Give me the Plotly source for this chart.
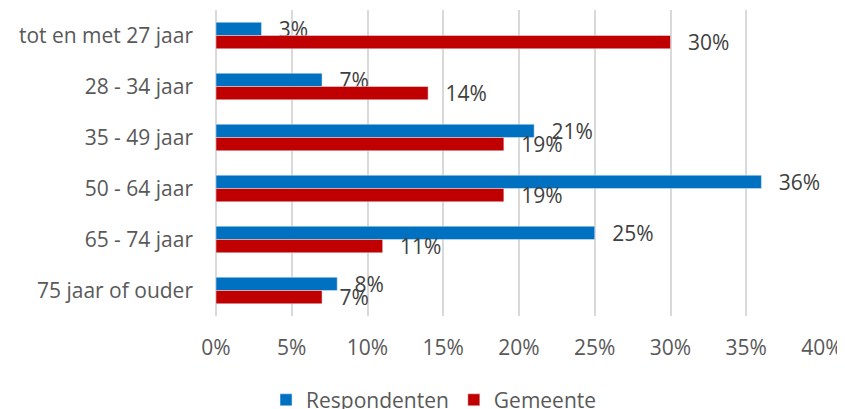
import plotly.graph_objects as go

categories = ["tot en met 27 jaar", "28 - 34 jaar", "35 - 49 jaar",
              "50 - 64 jaar", "65 - 74 jaar", "75 jaar of ouder"]
respondenten = [0.03, 0.07, 0.21, 0.36, 0.25, 0.08]
gemeente = [0.30, 0.14, 0.19, 0.19, 0.11, 0.07]
x_ticks = [0, 0.05, 0.10, 0.15, 0.20, 0.25, 0.30, 0.35, 0.40]
x_tick_labels = ["0%", "5%", "10%", "15%", "20%", "25%", "30%", "35%", "40%"]

FONT = "Open Sans"
FS = 21
pad = "\u00a0\u00a0\u2009"

fig = go.Figure()
fig.add_trace(go.Bar(
    name="Respondenten", y=categories, x=respondenten, orientation="h",
    marker=dict(color="#0070C0"),
    text=[pad + f"{round(v*100)}%" for v in respondenten],
    textposition="outside", constraintext="none", cliponaxis=False,
    textfont=dict(family=FONT, size=FS, color="#404040"),
))
fig.add_trace(go.Bar(
    name="Gemeente", y=categories, x=gemeente, orientation="h",
    marker=dict(color="#C00000"),
    text=[pad + f"{round(v*100)}%" for v in gemeente],
    textposition="outside", constraintext="none", cliponaxis=False,
    textfont=dict(family=FONT, size=FS, color="#404040"),
))

# the page body has an 8px margin, so the figure is sized/offset to compensate
fig.update_layout(
    width=837, height=401,
    margin=dict(l=208, r=23, t=2, b=93, autoexpand=False),
    paper_bgcolor="white", plot_bgcolor="white",
    barmode="group", bargap=0.48, bargroupgap=0,
    font=dict(family=FONT, size=FS, color="#595959"),
    showlegend=True,
    legend=dict(orientation="h", xref="container", yref="container",
                x=0.509, xanchor="center", y=0.022, yanchor="middle",
                font=dict(family=FONT, size=FS, color="#595959"),
                traceorder="normal", itemclick=False),
    xaxis=dict(range=[0, 0.40], tickvals=x_ticks, ticktext=x_tick_labels,
               showgrid=True, gridcolor="#D9D9D9", gridwidth=1.5,
               zeroline=True, zerolinecolor="#D9D9D9", zerolinewidth=1.5,
               showline=False, ticks="", ticklabelstandoff=17, automargin=False,
               tickfont=dict(family=FONT, size=FS, color="#595959"), fixedrange=True),
    yaxis=dict(autorange="reversed", showgrid=False, showline=False, ticks="",
               ticklabelstandoff=22, automargin=False,
               tickfont=dict(family=FONT, size=FS, color="#595959"), fixedrange=True),
)

fig.write_html("out.html")
